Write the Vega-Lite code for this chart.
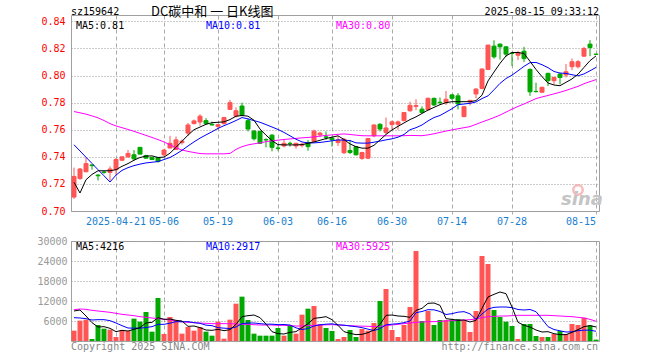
{
  "$schema": "https://vega.github.io/schema/vega-lite/v6.json",
  "padding": {"left": 36, "top": 5, "right": 0, "bottom": 0},
  "background": "white",
  "spacing": 8,
  "config": {
    "view": {"stroke": "#a0a0a0", "strokeWidth": 1},
    "font": "DejaVu Sans Mono",
    "axis": {"labelFont": "DejaVu Sans Mono", "labelFontSize": 10, "titleFont": "DejaVu Sans Mono", "labelOverlap": false}
  },
  "datasets": {
    "k": [
      {"d":"2025-04-10","o":0.7103,"h":0.7320,"l":0.7090,"c":0.7255,"v":3100,"m5":0.7212,"m10":0.7489,"m30":0.7734,"vm5":9000,"vm10":7000,"vm30":9400},
      {"d":"2025-04-11","o":0.7240,"h":0.7318,"l":0.7230,"c":0.7310,"v":6100,"m5":0.7133,"m10":0.7443,"m30":0.7725,"vm5":9300,"vm10":6900,"vm30":9600},
      {"d":"2025-04-14","o":0.7290,"h":0.7395,"l":0.7285,"c":0.7350,"v":6400,"m5":0.7231,"m10":0.7397,"m30":0.7715,"vm5":7500,"vm10":6700,"vm30":9500},
      {"d":"2025-04-15","o":0.7340,"h":0.7342,"l":0.7305,"c":0.7335,"v":600,"m5":0.7270,"m10":0.7351,"m30":0.7702,"vm5":5500,"vm10":6300,"vm30":9200},
      {"d":"2025-04-16","o":0.7265,"h":0.7272,"l":0.7225,"c":0.7260,"v":4800,"m5":0.7297,"m10":0.7305,"m30":0.7688,"vm5":4200,"vm10":6400,"vm30":9000},
      {"d":"2025-04-17","o":0.7288,"h":0.7295,"l":0.7275,"c":0.7285,"v":3700,"m5":0.7297,"m10":0.7260,"m30":0.7668,"vm5":4300,"vm10":6400,"vm30":8800},
      {"d":"2025-04-18","o":0.7285,"h":0.7330,"l":0.7225,"c":0.7310,"v":3400,"m5":0.7297,"m10":0.7214,"m30":0.7645,"vm5":3800,"vm10":6100,"vm30":8600},
      {"d":"2025-04-21","o":0.7305,"h":0.7390,"l":0.7260,"c":0.7380,"v":1200,"m5":0.7305,"m10":0.7265,"m30":0.7628,"vm5":2800,"vm10":5400,"vm30":8300},
      {"d":"2025-04-22","o":0.7375,"h":0.7402,"l":0.7368,"c":0.7400,"v":3300,"m5":0.7330,"m10":0.7300,"m30":0.7615,"vm5":3200,"vm10":4600,"vm30":8000},
      {"d":"2025-04-23","o":0.7400,"h":0.7450,"l":0.7393,"c":0.7425,"v":3000,"m5":0.7350,"m10":0.7320,"m30":0.7602,"vm5":3000,"vm10":3900,"vm30":7800},
      {"d":"2025-04-24","o":0.7415,"h":0.7450,"l":0.7375,"c":0.7385,"v":6700,"m5":0.7375,"m10":0.7335,"m30":0.7588,"vm5":3500,"vm10":3850,"vm30":7600},
      {"d":"2025-04-25","o":0.7470,"h":0.7472,"l":0.7418,"c":0.7420,"v":5800,"m5":0.7395,"m10":0.7346,"m30":0.7573,"vm5":4000,"vm10":3850,"vm30":7300},
      {"d":"2025-04-28","o":0.7410,"h":0.7415,"l":0.7388,"c":0.7390,"v":8700,"m5":0.7405,"m10":0.7355,"m30":0.7558,"vm5":5400,"vm10":4050,"vm30":7100},
      {"d":"2025-04-29","o":0.7395,"h":0.7400,"l":0.7378,"c":0.7380,"v":2800,"m5":0.7407,"m10":0.7360,"m30":0.7543,"vm5":5600,"vm10":4300,"vm30":6900},
      {"d":"2025-04-30","o":0.7395,"h":0.7398,"l":0.7358,"c":0.7365,"v":12900,"m5":0.7395,"m10":0.7365,"m30":0.7527,"vm5":7000,"vm10":5000,"vm30":6700},
      {"d":"2025-05-06","o":0.7415,"h":0.7457,"l":0.7405,"c":0.7450,"v":2100,"m5":0.7398,"m10":0.7380,"m30":0.7510,"vm5":6500,"vm10":5000,"vm30":6500},
      {"d":"2025-05-07","o":0.7465,"h":0.7555,"l":0.7462,"c":0.7500,"v":7200,"m5":0.7427,"m10":0.7395,"m30":0.7488,"vm5":6600,"vm10":5350,"vm30":6300},
      {"d":"2025-05-08","o":0.7455,"h":0.7550,"l":0.7450,"c":0.7525,"v":6200,"m5":0.7470,"m10":0.7420,"m30":0.7467,"vm5":6200,"vm10":5800,"vm30":6000},
      {"d":"2025-05-09","o":0.7505,"h":0.7528,"l":0.7490,"c":0.7515,"v":2200,"m5":0.7515,"m10":0.7448,"m30":0.7450,"vm5":6000,"vm10":5750,"vm30":5800},
      {"d":"2025-05-12","o":0.7575,"h":0.7650,"l":0.7555,"c":0.7635,"v":4200,"m5":0.7560,"m10":0.7480,"m30":0.7440,"vm5":4400,"vm10":5800,"vm30":5600},
      {"d":"2025-05-13","o":0.7645,"h":0.7675,"l":0.7640,"c":0.7665,"v":3100,"m5":0.7600,"m10":0.7510,"m30":0.7432,"vm5":4500,"vm10":5500,"vm30":5500},
      {"d":"2025-05-14","o":0.7657,"h":0.7715,"l":0.7630,"c":0.7700,"v":4200,"m5":0.7620,"m10":0.7538,"m30":0.7424,"vm5":4000,"vm10":5300,"vm30":5400},
      {"d":"2025-05-15","o":0.7667,"h":0.7685,"l":0.7640,"c":0.7645,"v":2800,"m5":0.7640,"m10":0.7562,"m30":0.7422,"vm5":3300,"vm10":4750,"vm30":5300},
      {"d":"2025-05-16","o":0.7640,"h":0.7660,"l":0.7632,"c":0.7635,"v":1600,"m5":0.7652,"m10":0.7585,"m30":0.7422,"vm5":3200,"vm10":4600,"vm30":5200},
      {"d":"2025-05-19","o":0.7625,"h":0.7640,"l":0.7600,"c":0.7637,"v":5800,"m5":0.7655,"m10":0.7610,"m30":0.7422,"vm5":3500,"vm10":4000,"vm30":5200},
      {"d":"2025-05-20","o":0.7645,"h":0.7695,"l":0.7638,"c":0.7690,"v":700,"m5":0.7658,"m10":0.7630,"m30":0.7422,"vm5":3100,"vm10":3850,"vm30":5200},
      {"d":"2025-05-21","o":0.7750,"h":0.7820,"l":0.7745,"c":0.7800,"v":6400,"m5":0.7675,"m10":0.7648,"m30":0.7425,"vm5":3400,"vm10":3750,"vm30":5200},
      {"d":"2025-05-22","o":0.7700,"h":0.7765,"l":0.7690,"c":0.7740,"v":11200,"m5":0.7700,"m10":0.7668,"m30":0.7455,"vm5":5000,"vm10":4200,"vm30":5100},
      {"d":"2025-05-23","o":0.7775,"h":0.7800,"l":0.7700,"c":0.7708,"v":13300,"m5":0.7705,"m10":0.7690,"m30":0.7475,"vm5":7300,"vm10":5200,"vm30":5000},
      {"d":"2025-05-26","o":0.7667,"h":0.7685,"l":0.7587,"c":0.7605,"v":6300,"m5":0.7700,"m10":0.7680,"m30":0.7488,"vm5":7600,"vm10":5400,"vm30":5000},
      {"d":"2025-05-27","o":0.7590,"h":0.7598,"l":0.7520,"c":0.7533,"v":2200,"m5":0.7670,"m10":0.7667,"m30":0.7496,"vm5":7800,"vm10":5400,"vm30":4900},
      {"d":"2025-05-28","o":0.7587,"h":0.7595,"l":0.7495,"c":0.7500,"v":1600,"m5":0.7605,"m10":0.7655,"m30":0.7503,"vm5":7000,"vm10":5200,"vm30":4800},
      {"d":"2025-05-29","o":0.7527,"h":0.7537,"l":0.7470,"c":0.7525,"v":1600,"m5":0.7560,"m10":0.7638,"m30":0.7512,"vm5":5100,"vm10":5050,"vm30":4800},
      {"d":"2025-05-30","o":0.7560,"h":0.7568,"l":0.7440,"c":0.7470,"v":1600,"m5":0.7520,"m10":0.7620,"m30":0.7518,"vm5":2800,"vm10":5050,"vm30":4800},
      {"d":"2025-06-03","o":0.7465,"h":0.7490,"l":0.7445,"c":0.7463,"v":3900,"m5":0.7490,"m10":0.7602,"m30":0.7523,"vm5":2200,"vm10":4900,"vm30":4700},
      {"d":"2025-06-04","o":0.7480,"h":0.7525,"l":0.7470,"c":0.7500,"v":1600,"m5":0.7488,"m10":0.7580,"m30":0.7528,"vm5":2100,"vm10":4950,"vm30":4700},
      {"d":"2025-06-05","o":0.7500,"h":0.7512,"l":0.7475,"c":0.7498,"v":4700,"m5":0.7488,"m10":0.7555,"m30":0.7532,"vm5":2600,"vm10":4800,"vm30":4600},
      {"d":"2025-06-06","o":0.7480,"h":0.7500,"l":0.7460,"c":0.7500,"v":2200,"m5":0.7488,"m10":0.7530,"m30":0.7536,"vm5":2800,"vm10":3950,"vm30":4500},
      {"d":"2025-06-09","o":0.7485,"h":0.7505,"l":0.7470,"c":0.7493,"v":7900,"m5":0.7490,"m10":0.7510,"m30":0.7540,"vm5":4000,"vm10":3450,"vm30":4500},
      {"d":"2025-06-10","o":0.7505,"h":0.7525,"l":0.7445,"c":0.7475,"v":9700,"m5":0.7500,"m10":0.7502,"m30":0.7543,"vm5":5200,"vm10":3750,"vm30":4600},
      {"d":"2025-06-11","o":0.7513,"h":0.7600,"l":0.7505,"c":0.7590,"v":10500,"m5":0.7510,"m10":0.7503,"m30":0.7547,"vm5":6800,"vm10":4500,"vm30":4700},
      {"d":"2025-06-12","o":0.7562,"h":0.7585,"l":0.7545,"c":0.7575,"v":5000,"m5":0.7522,"m10":0.7506,"m30":0.7553,"vm5":7000,"vm10":4850,"vm30":4800},
      {"d":"2025-06-13","o":0.7547,"h":0.7587,"l":0.7525,"c":0.7545,"v":3900,"m5":0.7535,"m10":0.7512,"m30":0.7558,"vm5":7300,"vm10":5050,"vm30":4850},
      {"d":"2025-06-16","o":0.7538,"h":0.7550,"l":0.7475,"c":0.7525,"v":3000,"m5":0.7545,"m10":0.7518,"m30":0.7562,"vm5":6400,"vm10":5150,"vm30":4900},
      {"d":"2025-06-17","o":0.7505,"h":0.7550,"l":0.7480,"c":0.7525,"v":600,"m5":0.7555,"m10":0.7525,"m30":0.7566,"vm5":4700,"vm10":4850,"vm30":4800},
      {"d":"2025-06-18","o":0.7430,"h":0.7537,"l":0.7420,"c":0.7530,"v":1200,"m5":0.7528,"m10":0.7523,"m30":0.7569,"vm5":2800,"vm10":4750,"vm30":4700},
      {"d":"2025-06-19","o":0.7447,"h":0.7525,"l":0.7420,"c":0.7432,"v":3300,"m5":0.7495,"m10":0.7520,"m30":0.7565,"vm5":2300,"vm10":4500,"vm30":4600},
      {"d":"2025-06-20","o":0.7475,"h":0.7480,"l":0.7410,"c":0.7415,"v":1200,"m5":0.7475,"m10":0.7503,"m30":0.7560,"vm5":1900,"vm10":4300,"vm30":4500},
      {"d":"2025-06-23","o":0.7388,"h":0.7437,"l":0.7378,"c":0.7432,"v":3600,"m5":0.7464,"m10":0.7501,"m30":0.7556,"vm5":2000,"vm10":4000,"vm30":4450},
      {"d":"2025-06-24","o":0.7390,"h":0.7540,"l":0.7383,"c":0.7535,"v":3100,"m5":0.7464,"m10":0.7501,"m30":0.7555,"vm5":2500,"vm10":3550,"vm30":4400},
      {"d":"2025-06-25","o":0.7555,"h":0.7640,"l":0.7545,"c":0.7635,"v":5400,"m5":0.7485,"m10":0.7508,"m30":0.7555,"vm5":3300,"vm10":3150,"vm30":4350},
      {"d":"2025-06-26","o":0.7640,"h":0.7648,"l":0.7587,"c":0.7605,"v":12000,"m5":0.7525,"m10":0.7516,"m30":0.7555,"vm5":5000,"vm10":3700,"vm30":4400},
      {"d":"2025-06-27","o":0.7580,"h":0.7690,"l":0.7568,"c":0.7613,"v":15600,"m5":0.7565,"m10":0.7525,"m30":0.7555,"vm5":7700,"vm10":4850,"vm30":4600},
      {"d":"2025-06-30","o":0.7638,"h":0.7668,"l":0.7600,"c":0.7658,"v":3300,"m5":0.7598,"m10":0.7533,"m30":0.7555,"vm5":7800,"vm10":5050,"vm30":4800},
      {"d":"2025-07-01","o":0.7640,"h":0.7668,"l":0.7600,"c":0.7658,"v":1200,"m5":0.7625,"m10":0.7545,"m30":0.7555,"vm5":7500,"vm10":5200,"vm30":5000},
      {"d":"2025-07-02","o":0.7667,"h":0.7727,"l":0.7662,"c":0.7727,"v":4800,"m5":0.7650,"m10":0.7565,"m30":0.7556,"vm5":7400,"vm10":5500,"vm30":5200},
      {"d":"2025-07-03","o":0.7740,"h":0.7807,"l":0.7733,"c":0.7780,"v":10200,"m5":0.7675,"m10":0.7600,"m30":0.7558,"vm5":7100,"vm10":6000,"vm30":5400},
      {"d":"2025-07-04","o":0.7772,"h":0.7825,"l":0.7745,"c":0.7778,"v":27000,"m5":0.7695,"m10":0.7615,"m30":0.7557,"vm5":9200,"vm10":8500,"vm30":5600},
      {"d":"2025-07-07","o":0.7752,"h":0.7772,"l":0.7722,"c":0.7727,"v":6000,"m5":0.7720,"m10":0.7635,"m30":0.7556,"vm5":9800,"vm10":8850,"vm30":5700},
      {"d":"2025-07-08","o":0.7747,"h":0.7837,"l":0.7742,"c":0.7832,"v":9000,"m5":0.7745,"m10":0.7665,"m30":0.7562,"vm5":11300,"vm10":9400,"vm30":5800},
      {"d":"2025-07-09","o":0.7832,"h":0.7837,"l":0.7775,"c":0.7783,"v":4800,"m5":0.7765,"m10":0.7690,"m30":0.7570,"vm5":11400,"vm10":9350,"vm30":5800},
      {"d":"2025-07-10","o":0.7803,"h":0.7837,"l":0.7783,"c":0.7800,"v":6300,"m5":0.7785,"m10":0.7705,"m30":0.7580,"vm5":10700,"vm10":8850,"vm30":5900},
      {"d":"2025-07-11","o":0.7800,"h":0.7886,"l":0.7783,"c":0.7825,"v":6300,"m5":0.7800,"m10":0.7730,"m30":0.7590,"vm5":6700,"vm10":7950,"vm30":6000},
      {"d":"2025-07-14","o":0.7857,"h":0.7862,"l":0.7820,"c":0.7832,"v":6500,"m5":0.7807,"m10":0.7755,"m30":0.7599,"vm5":6500,"vm10":8200,"vm30":6100},
      {"d":"2025-07-15","o":0.7850,"h":0.7870,"l":0.7750,"c":0.7790,"v":6600,"m5":0.7807,"m10":0.7785,"m30":0.7607,"vm5":6200,"vm10":8650,"vm30":6200},
      {"d":"2025-07-16","o":0.7697,"h":0.7775,"l":0.7692,"c":0.7770,"v":6200,"m5":0.7807,"m10":0.7790,"m30":0.7615,"vm5":6300,"vm10":8800,"vm30":6300},
      {"d":"2025-07-17","o":0.7805,"h":0.7817,"l":0.7780,"c":0.7817,"v":2700,"m5":0.7807,"m10":0.7795,"m30":0.7623,"vm5":5700,"vm10":8150,"vm30":6400},
      {"d":"2025-07-18","o":0.7864,"h":0.7908,"l":0.7832,"c":0.7900,"v":9000,"m5":0.7815,"m10":0.7805,"m30":0.7640,"vm5":6200,"vm10":6500,"vm30":6600},
      {"d":"2025-07-21","o":0.7905,"h":0.8053,"l":0.7898,"c":0.8048,"v":25500,"m5":0.7855,"m10":0.7830,"m30":0.7657,"vm5":9800,"vm10":8100,"vm30":7000},
      {"d":"2025-07-22","o":0.8045,"h":0.8225,"l":0.8040,"c":0.8225,"v":23100,"m5":0.7960,"m10":0.7850,"m30":0.7673,"vm5":13200,"vm10":9600,"vm30":7300},
      {"d":"2025-07-23","o":0.8217,"h":0.8260,"l":0.8125,"c":0.8138,"v":9300,"m5":0.8026,"m10":0.7895,"m30":0.7690,"vm5":14000,"vm10":10100,"vm30":7400},
      {"d":"2025-07-24","o":0.8232,"h":0.8237,"l":0.8118,"c":0.8212,"v":7200,"m5":0.8090,"m10":0.7942,"m30":0.7708,"vm5":14700,"vm10":10200,"vm30":7500},
      {"d":"2025-07-25","o":0.8212,"h":0.8217,"l":0.8138,"c":0.8158,"v":5800,"m5":0.8145,"m10":0.7978,"m30":0.7730,"vm5":14200,"vm10":10200,"vm30":7500},
      {"d":"2025-07-28","o":0.8165,"h":0.8175,"l":0.8070,"c":0.8163,"v":4500,"m5":0.8170,"m10":0.8003,"m30":0.7752,"vm5":10200,"vm10":10000,"vm30":7600},
      {"d":"2025-07-29","o":0.8150,"h":0.8182,"l":0.8115,"c":0.8170,"v":600,"m5":0.8170,"m10":0.8035,"m30":0.7772,"vm5":5600,"vm10":9450,"vm30":7700},
      {"d":"2025-07-30","o":0.8180,"h":0.8212,"l":0.8100,"c":0.8125,"v":5100,"m5":0.8163,"m10":0.8068,"m30":0.7790,"vm5":4700,"vm10":9300,"vm30":7700},
      {"d":"2025-07-31","o":0.8045,"h":0.8053,"l":0.7850,"c":0.7880,"v":5100,"m5":0.8105,"m10":0.8095,"m30":0.7810,"vm5":4200,"vm10":9450,"vm30":7700},
      {"d":"2025-08-01","o":0.7883,"h":0.7947,"l":0.7876,"c":0.7881,"v":1500,"m5":0.8045,"m10":0.8097,"m30":0.7830,"vm5":3300,"vm10":8800,"vm30":7700},
      {"d":"2025-08-04","o":0.7877,"h":0.7918,"l":0.7871,"c":0.7913,"v":1200,"m5":0.7992,"m10":0.8080,"m30":0.7842,"vm5":2700,"vm10":6600,"vm30":7700},
      {"d":"2025-08-05","o":0.8016,"h":0.8021,"l":0.7923,"c":0.7962,"v":1200,"m5":0.7945,"m10":0.8058,"m30":0.7853,"vm5":2800,"vm10":4300,"vm30":7700},
      {"d":"2025-08-06","o":0.7962,"h":0.7991,"l":0.7935,"c":0.7986,"v":2100,"m5":0.7930,"m10":0.8030,"m30":0.7865,"vm5":2200,"vm10":3450,"vm30":7600},
      {"d":"2025-08-07","o":0.8011,"h":0.8021,"l":0.7935,"c":0.7986,"v":3000,"m5":0.7925,"m10":0.8018,"m30":0.7877,"vm5":1900,"vm10":3050,"vm30":7500},
      {"d":"2025-08-08","o":0.8004,"h":0.8085,"l":0.7986,"c":0.8028,"v":2100,"m5":0.7950,"m10":0.8016,"m30":0.7890,"vm5":1900,"vm10":2700,"vm30":7400},
      {"d":"2025-08-11","o":0.8065,"h":0.8126,"l":0.8040,"c":0.8102,"v":5100,"m5":0.7975,"m10":0.8006,"m30":0.7905,"vm5":2600,"vm10":2750,"vm30":7300},
      {"d":"2025-08-12","o":0.8065,"h":0.8114,"l":0.8053,"c":0.8102,"v":4800,"m5":0.8010,"m10":0.7998,"m30":0.7920,"vm5":3400,"vm10":3100,"vm30":7100},
      {"d":"2025-08-13","o":0.8143,"h":0.8212,"l":0.8138,"c":0.8200,"v":7000,"m5":0.8060,"m10":0.8012,"m30":0.7940,"vm5":4300,"vm10":3250,"vm30":6900},
      {"d":"2025-08-14","o":0.8232,"h":0.8261,"l":0.8143,"c":0.8207,"v":4700,"m5":0.8110,"m10":0.8035,"m30":0.7955,"vm5":4600,"vm10":3250,"vm30":6500},
      {"d":"2025-08-15","o":0.8158,"h":0.8160,"l":0.8155,"c":0.8156,"v":400,"m5":0.8145,"m10":0.8060,"m30":0.7970,"vm5":4216,"vm10":2917,"vm30":5925}
    ]
  },
  "vconcat": [
    {
      "width": 528,
      "height": 196,
      "data": {"name": "k"},
      "encoding": {
        "x": {
          "field": "d", "type": "ordinal",
          "scale": {"type": "band", "paddingInner": 0, "paddingOuter": 0},
          "axis": {
            "values": ["2025-04-21","2025-05-06","2025-05-19","2025-06-03","2025-06-16","2025-06-30","2025-07-14","2025-07-28","2025-08-15"],
            "labelExpr": "datum.value == '2025-04-21' ? datum.value : substring(datum.value, 5)",
            "labelAlign": {"condition": {"test": "datum.value == '2025-08-15'", "value": "right"}, "value": "center"},
            "labelAngle": 0, "title": null, "domain": false,
            "grid": true, "gridDash": [4, 3], "gridColor": "#aaaaaa", "gridWidth": 1,
            "ticks": true, "tickColor": "#aaaaaa", "tickSize": 3,
            "labelColor": "#1a80d0", "labelPadding": 2
          }
        }
      },
      "layer": [
        {
          "mark": {"type": "rule", "strokeWidth": 1},
          "encoding": {
            "y": {
              "field": "l", "type": "quantitative",
              "scale": {"domain": [0.70, 0.8447], "nice": false, "zero": false},
              "axis": {
                "values": [0.70, 0.72, 0.74, 0.76, 0.78, 0.80, 0.82, 0.84], "tickCount": 30,
                "format": ".2f", "title": null, "labelColor": "#ff0000",
                "ticks": false, "domain": false, "labelPadding": 6,
                "grid": true, "gridDash": [1, 2], "gridColor": "#999999"
              }
            },
            "y2": {"field": "h"},
            "stroke": {"condition": {"test": "datum.c >= datum.o", "value": "#ff5555"}, "value": "#00a800"}
          }
        },
        {
          "mark": {"type": "bar", "size": 4, "strokeWidth": 1},
          "encoding": {
            "y": {"field": "o", "type": "quantitative"},
            "y2": {"field": "c"},
            "fill": {"condition": {"test": "datum.c >= datum.o", "value": "#ff5555"}, "value": "#00a800"},
            "stroke": {"condition": {"test": "datum.c >= datum.o", "value": "#ff5555"}, "value": "#00a800"}
          }
        },
        {"mark": {"type": "line", "strokeWidth": 1, "color": "#ff00ff"}, "encoding": {"y": {"field": "m30", "type": "quantitative"}}},
        {"mark": {"type": "line", "strokeWidth": 1, "color": "#0000ff"}, "encoding": {"y": {"field": "m10", "type": "quantitative"}}},
        {"mark": {"type": "line", "strokeWidth": 1, "color": "#000000"}, "encoding": {"y": {"field": "m5", "type": "quantitative"}}},
        {
          "data": {"values": [{"t": "sz159642"}]},
          "mark": {"type": "text", "align": "left", "baseline": "middle", "dx": -3, "fontSize": 10, "font": "DejaVu Sans Mono", "color": "#000000"},
          "encoding": {"x": {"datum": "2025-04-10", "type": "ordinal"}, "y": {"datum": 0.8469, "type": "quantitative"}, "text": {"field": "t"}}
        },
        {
          "data": {"values": [{"t": "DC碳中和  一  日K线图"}]},
          "mark": {"type": "text", "align": "left", "baseline": "middle", "dx": -1, "fontSize": 13, "font": "Noto Sans CJK SC", "color": "#000000"},
          "encoding": {"x": {"datum": "2025-04-29", "type": "ordinal"}, "y": {"datum": 0.8466, "type": "quantitative"}, "text": {"field": "t"}}
        },
        {
          "data": {"values": [{"t": "2025-08-15 09:33:12"}]},
          "mark": {"type": "text", "align": "right", "baseline": "middle", "dx": 3, "fontSize": 10, "font": "DejaVu Sans Mono", "color": "#000000"},
          "encoding": {"x": {"datum": "2025-08-15", "type": "ordinal"}, "y": {"datum": 0.8469, "type": "quantitative"}, "text": {"field": "t"}}
        },
        {
          "data": {"values": [{"t": "MA5:0.81"}]},
          "mark": {"type": "text", "align": "left", "baseline": "middle", "dx": 2, "fontSize": 10, "font": "DejaVu Sans Mono", "color": "#000000"},
          "encoding": {"x": {"datum": "2025-04-10", "type": "ordinal"}, "y": {"datum": 0.8366, "type": "quantitative"}, "text": {"field": "t"}}
        },
        {
          "data": {"values": [{"t": "MA10:0.81"}]},
          "mark": {"type": "text", "align": "left", "baseline": "middle", "dx": 0, "fontSize": 10, "font": "DejaVu Sans Mono", "color": "#0000ff"},
          "encoding": {"x": {"datum": "2025-05-15", "type": "ordinal"}, "y": {"datum": 0.8366, "type": "quantitative"}, "text": {"field": "t"}}
        },
        {
          "data": {"values": [{"t": "MA30:0.80"}]},
          "mark": {"type": "text", "align": "left", "baseline": "middle", "dx": -2, "fontSize": 10, "font": "DejaVu Sans Mono", "color": "#ff00ff"},
          "encoding": {"x": {"datum": "2025-06-17", "type": "ordinal"}, "y": {"datum": 0.8366, "type": "quantitative"}, "text": {"field": "t"}}
        },
        {
          "data": {"values": [{"t": "sina"}]},
          "mark": {"type": "point", "shape": "circle", "filled": false, "size": 90, "strokeWidth": 2.5, "color": "#f4a0a0", "opacity": 0.7},
          "encoding": {"x": {"datum": "2025-08-12", "type": "ordinal"}, "y": {"datum": 0.7155, "type": "quantitative"}}
        },
        {
          "data": {"values": [{"t": "sina"}]},
          "mark": {"type": "text", "align": "center", "baseline": "middle", "dx": -2, "fontSize": 18, "fontStyle": "italic", "fontWeight": "bold", "font": "DejaVu Sans", "color": "#c4c4c4"},
          "encoding": {"x": {"datum": "2025-08-13", "type": "ordinal"}, "y": {"datum": 0.7080, "type": "quantitative"}, "text": {"field": "t"}}
        }
      ]
    },
    {
      "width": 528,
      "height": 100,
      "data": {"name": "k"},
      "encoding": {
        "x": {
          "field": "d", "type": "ordinal",
          "scale": {"type": "band", "paddingInner": 0, "paddingOuter": 0},
          "axis": {
            "values": ["2025-04-21","2025-05-06","2025-05-19","2025-06-03","2025-06-16","2025-06-30","2025-07-14","2025-07-28","2025-08-15"],
            "labels": false, "ticks": false, "domain": false, "title": null,
            "grid": true, "gridDash": [4, 3], "gridColor": "#aaaaaa"
          }
        }
      },
      "layer": [
        {
          "mark": {"type": "bar", "size": 5},
          "encoding": {
            "y": {
              "field": "v", "type": "quantitative",
              "scale": {"domain": [0, 30000], "nice": false},
              "axis": {
                "values": [6000, 12000, 18000, 24000, 30000], "tickCount": 30, "format": "d", "title": null,
                "labelColor": "#999999", "ticks": false, "domain": false, "labelPadding": 4,
                "grid": true, "gridDash": [1, 2], "gridColor": "#999999"
              }
            },
            "fill": {"condition": {"test": "datum.c >= datum.o", "value": "#ff5555"}, "value": "#00a800"}
          }
        },
        {"mark": {"type": "line", "strokeWidth": 1, "color": "#ff00ff"}, "encoding": {"y": {"field": "vm30", "type": "quantitative"}}},
        {"mark": {"type": "line", "strokeWidth": 1, "color": "#0000ff"}, "encoding": {"y": {"field": "vm10", "type": "quantitative"}}},
        {"mark": {"type": "line", "strokeWidth": 1, "color": "#000000"}, "encoding": {"y": {"field": "vm5", "type": "quantitative"}}},
        {
          "data": {"values": [{"t": "MA5:4216"}]},
          "mark": {"type": "text", "align": "left", "baseline": "middle", "dx": 2, "fontSize": 10, "font": "DejaVu Sans Mono", "color": "#000000"},
          "encoding": {"x": {"datum": "2025-04-10", "type": "ordinal"}, "y": {"datum": 28300, "type": "quantitative"}, "text": {"field": "t"}}
        },
        {
          "data": {"values": [{"t": "MA10:2917"}]},
          "mark": {"type": "text", "align": "left", "baseline": "middle", "dx": 0, "fontSize": 10, "font": "DejaVu Sans Mono", "color": "#0000ff"},
          "encoding": {"x": {"datum": "2025-05-15", "type": "ordinal"}, "y": {"datum": 28300, "type": "quantitative"}, "text": {"field": "t"}}
        },
        {
          "data": {"values": [{"t": "MA30:5925"}]},
          "mark": {"type": "text", "align": "left", "baseline": "middle", "dx": -2, "fontSize": 10, "font": "DejaVu Sans Mono", "color": "#ff00ff"},
          "encoding": {"x": {"datum": "2025-06-17", "type": "ordinal"}, "y": {"datum": 28300, "type": "quantitative"}, "text": {"field": "t"}}
        },
        {
          "data": {"values": [{"t": "Copyright 2025 SINA.COM"}]},
          "mark": {"type": "text", "align": "left", "baseline": "middle", "dx": -3, "fontSize": 10, "font": "DejaVu Sans Mono", "color": "#888888"},
          "encoding": {"x": {"datum": "2025-04-10", "type": "ordinal"}, "y": {"datum": -1800, "type": "quantitative"}, "text": {"field": "t"}}
        },
        {
          "data": {"values": [{"t": "http://finance.sina.com.cn"}]},
          "mark": {"type": "text", "align": "right", "baseline": "middle", "dx": 2, "fontSize": 10, "font": "DejaVu Sans Mono", "color": "#888888"},
          "encoding": {"x": {"datum": "2025-08-15", "type": "ordinal"}, "y": {"datum": -1800, "type": "quantitative"}, "text": {"field": "t"}}
        }
      ]
    }
  ]
}
